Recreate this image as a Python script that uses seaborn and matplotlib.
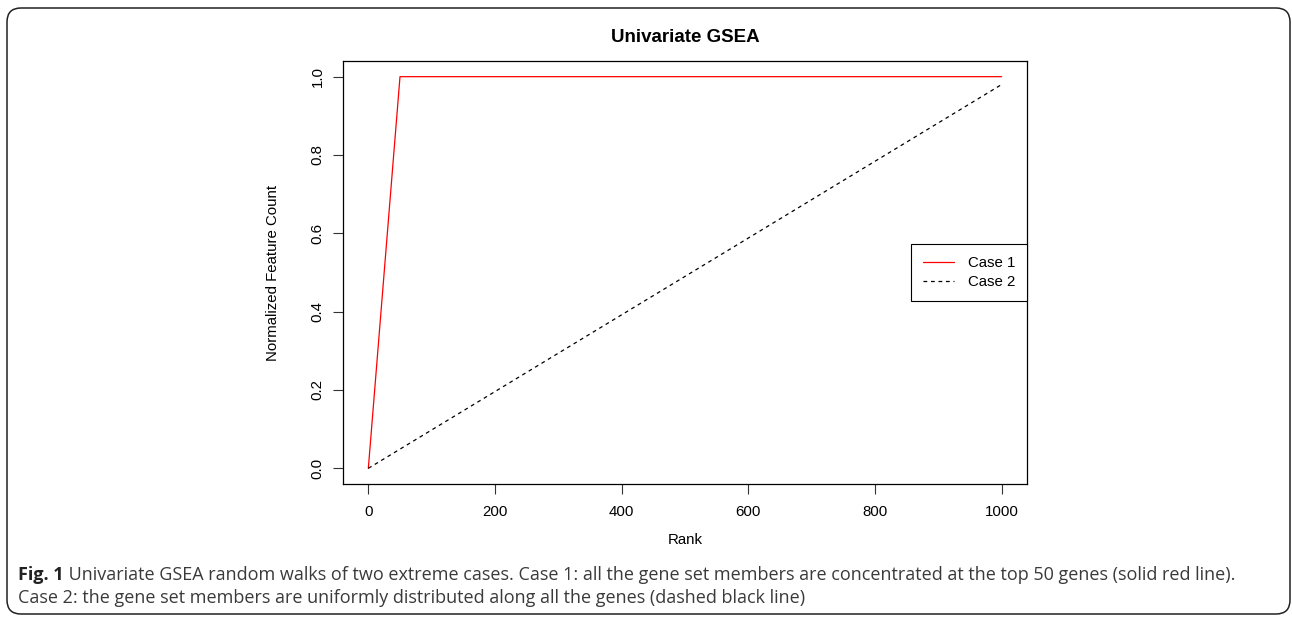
import matplotlib
matplotlib.use("Agg")
import matplotlib.pyplot as plt
from matplotlib.patches import FancyBboxPatch
from matplotlib.transforms import IdentityTransform
import seaborn as sns
import pandas as pd

# data
rank_case1 = [0, 50, 1000]
count_case1 = [0.0, 1.0, 1.0]
rank_case2 = [0, 1000]
count_case2 = [0.0, 0.98]

x_ticks = [0, 200, 400, 600, 800, 1000]
y_ticks = [0.0, 0.2, 0.4, 0.6, 0.8, 1.0]

title = "Univariate GSEA"
caption_bold = "Fig. 1"
caption_line1 = (" Univariate GSEA random walks of two extreme cases. Case 1: all the gene set "
                 "members are concentrated at the top 50 genes (solid red line).")
caption_line2 = ("Case 2: the gene set members are uniformly distributed along all the genes "
                 "(dashed black line)")

df = pd.concat([
    pd.DataFrame({"Rank": rank_case1, "Count": count_case1, "case": "Case 1"}),
    pd.DataFrame({"Rank": rank_case2, "Count": count_case2, "case": "Case 2"}),
])

sns.set_style("ticks")
plt.rcParams["font.family"] = ["Liberation Sans", "DejaVu Sans"]
plt.rcParams["text.color"] = "black"
plt.rcParams["axes.labelcolor"] = "black"

W, H = 1292, 620
fig = plt.figure(figsize=(W / 100, H / 100), dpi=100)
# axes box in pixels: left 343, right 1027, top 61, bottom 484
ax = fig.add_axes([343 / W, 1 - 484 / H, (1027 - 343) / W, (484 - 61) / H])

sns.lineplot(data=df, x="Rank", y="Count", hue="case", style="case",
             palette={"Case 1": "#ff0000", "Case 2": "black"},
             dashes={"Case 1": "", "Case 2": (3, 3)},
             linewidth=0.9, ax=ax, legend=False)

ax.set_xlim(-40, 1040)
ax.set_ylim(-0.04, 1.04)
ax.set_xticks(x_ticks)
ax.set_yticks(y_ticks)
ax.set_xticklabels([str(t) for t in x_ticks])
ax.set_yticklabels([f"{t:.1f}" for t in y_ticks])
for lab in ax.get_yticklabels():
    lab.set_rotation(90)
    lab.set_va("center")

for s in ax.spines.values():
    s.set_visible(True)
    s.set_linewidth(0.9)
    s.set_color("black")

ax.tick_params(axis="both", length=7.2, width=0.8, color="#333333",
               labelsize=10.8, labelcolor="black", direction="out")
ax.tick_params(axis="x", pad=8)
ax.tick_params(axis="y", pad=6)

ax.set_xlabel("Rank", fontsize=10.8, color="black")
ax.set_ylabel("Normalized Feature Count", fontsize=10.8, color="black")
ax.xaxis.set_label_coords(0.5, -0.115)
ax.yaxis.set_label_coords(-0.092, 0.5)
ax.set_title(title, fontweight="bold", fontsize=13.5, y=1.046, pad=0, color="black")

handles = [plt.Line2D([], [], color="#ff0000", lw=0.9),
           plt.Line2D([], [], color="black", lw=0.9, dashes=(3, 3))]
leg = ax.legend(handles, ["Case 1", "Case 2"], loc="center right",
                borderaxespad=0, fancybox=False, framealpha=1,
                edgecolor="black", fontsize=10.8, handlelength=2.05,
                handletextpad=0.9, borderpad=0.8, labelspacing=0.35)
leg.get_frame().set_linewidth(0.8)
for t in leg.get_texts():
    t.set_color("black")

# caption under the plot
cap_font = ["Open Sans", "DejaVu Sans"]
cap_size = 13.0
t1 = fig.text(18 / W, 1 - 584 / H, caption_bold, fontsize=cap_size, fontweight="bold",
              family=cap_font, color="#222222", va="bottom")
ax.annotate(caption_line1, xy=(1, 0), xycoords=t1, va="bottom", ha="left",
            fontsize=cap_size, family=cap_font, color="#3a3a3a", annotation_clip=False)
fig.text(18 / W, 1 - 607 / H, caption_line2, fontsize=cap_size,
         family=cap_font, color="#3a3a3a", va="bottom")

# rounded frame around the whole figure
frame = FancyBboxPatch((7, 6), 1283, 606, boxstyle="round,pad=0,rounding_size=14",
                       transform=IdentityTransform(), fill=False,
                       edgecolor="#222222", linewidth=1.1)
fig.add_artist(frame)

fig.savefig("out.png", dpi=100)
